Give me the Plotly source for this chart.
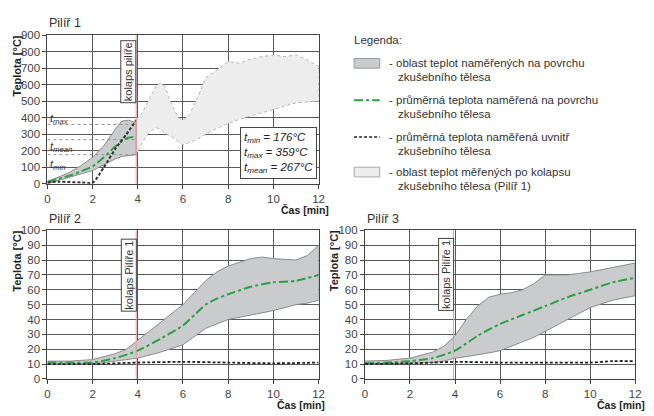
import plotly.graph_objects as go

# ---------------- data ----------------
p1_band_x = [0, 0.5, 1, 1.5, 2, 2.5, 3, 3.3, 3.6, 3.93]
p1_band_upper = [15, 40, 70, 110, 160, 230, 330, 380, 385, 368]
p1_band_lower = [0, 20, 40, 60, 80, 115, 150, 165, 172, 176]
p1_mean_x = [0, 0.5, 1, 1.5, 2, 2.5, 3, 3.5, 3.7, 3.93]
p1_mean_y = [10, 30, 50, 75, 105, 160, 225, 275, 282, 278]
p1_in_x = [0, 0.5, 1, 1.5, 2, 2.5, 3, 3.5, 3.93]
p1_in_y = [8, 12, 10, 8, 5, 100, 210, 300, 385]
p1_post_x = [3.93, 4.2, 4.5, 4.8, 5.0, 5.2, 5.5, 5.8, 6.0, 6.3, 6.7, 7.0, 7.5, 8.0,
             8.5, 9.0, 9.5, 10.0, 10.5, 11.0, 11.5, 12.0]
p1_post_upper = [390, 430, 510, 590, 610, 590, 480, 400, 385, 420, 540, 640, 690, 740,
                 730, 755, 770, 780, 770, 780, 750, 710]
p1_post_lower = [176, 250, 310, 340, 330, 305, 285, 255, 235, 250, 275, 300, 335, 365,
                 390, 410, 430, 450, 470, 490, 495, 500]
t_names = ["min", "max", "mean"]
t_values = [176, 359, 267]

p2_band_x = [0, 1, 2, 3, 3.5, 4, 5, 6, 7, 7.5, 8, 9, 9.5, 10, 11, 11.5, 12]
p2_band_upper = [12, 12, 13, 17, 20, 26, 38, 50, 66, 72, 76, 81, 82, 81, 80, 83, 90]
p2_band_lower = [10, 10, 10, 12, 13, 14, 18, 23, 34, 37, 40, 43, 44.5, 46, 50, 51, 53]
p2_mean_x = [0, 1, 2, 3, 4, 5, 6, 6.5, 7, 7.5, 8, 9, 10, 11, 12]
p2_mean_y = [11, 11, 11, 14, 19, 27, 36, 43, 50, 54, 57, 62, 65, 66, 70]
p2_in_x = [0, 2, 4, 6, 8, 10, 12]
p2_in_y = [10, 10, 11, 11.5, 11, 10.5, 11]

p3_band_x = [0, 1, 2, 3, 3.5, 4, 4.5, 5, 5.5, 6, 6.5, 7, 7.5, 8, 9, 10, 11, 12]
p3_band_upper = [12, 12.5, 14, 18, 22, 29, 40, 49, 55, 57, 58, 60, 64, 70, 70, 72, 75, 78]
p3_band_lower = [10, 10, 10.5, 11, 12, 14, 15, 16, 17.5, 19, 22, 25, 28, 32, 40, 48, 53, 56]
p3_mean_x = [0, 1, 2, 3, 4, 5, 6, 7, 8, 9, 10, 11, 12]
p3_mean_y = [10.5, 11, 12, 14, 19, 29, 37, 43, 49, 55, 60, 65, 68]
p3_in_x = [0, 2, 3, 4, 6, 8, 10, 11, 12]
p3_in_y = [10, 10.5, 11, 11.5, 11, 11, 11, 12, 12]

collapse_x = 3.93
x_ticks = [0, 2, 4, 6, 8, 10, 12]

legend_title = "Legenda:"
legend_texts = [
    ("- oblast teplot naměřených na povrchu", "zkušebního tělesa"),
    ("- průměrná teplota naměřená na povrchu", "zkušebního tělesa"),
    ("- průměrná teplota naměřená uvnitř", "zkušebního tělesa"),
    ("- oblast teplot měřených po kolapsu", "zkušebního tělesa (Pilíř 1)"),
]

# ---------------- style ----------------
FONT = "Liberation Sans, Arial, sans-serif"
DARK_FILL = "#c9cbcc"
DARK_LINE = "#8c8c8c"
LIGHT_FILL = "#ededed"
LIGHT_LINE = "#b5b5b5"
GREEN = "#2e9e48"
GRID = "#5a5a5a"
RED = "#e89a9a"
INSIDE_DASH = "3px,2px"
W, H = 654, 416


def px_x(p):
    return p / W


def px_y(p):
    return 1 - p / H


fig = go.Figure()


def band(xs, up, lo, xa, ya, fill, line, dash):
    fig.add_trace(go.Scatter(
        x=list(xs) + list(xs)[::-1], y=list(up) + list(lo)[::-1],
        fill="toself", fillcolor=fill, mode="lines",
        line=dict(color=line, width=1, dash=dash),
        xaxis=xa, yaxis=ya, showlegend=False, hoverinfo="skip"))


def line(xs, ys, xa, ya, color, dash, width):
    fig.add_trace(go.Scatter(
        x=xs, y=ys, mode="lines", line=dict(color=color, width=width, dash=dash, shape="spline", smoothing=0.6),
        xaxis=xa, yaxis=ya, showlegend=False))


# panel 1
band(p1_post_x, p1_post_upper, p1_post_lower, "x", "y", LIGHT_FILL, LIGHT_LINE, "dot")
band(p1_band_x, p1_band_upper, p1_band_lower, "x", "y", DARK_FILL, DARK_LINE, "solid")
for v in t_values:
    fig.add_trace(go.Scatter(x=[0, collapse_x], y=[v, v], mode="lines",
                             line=dict(color="#909090", width=1, dash="dot"),
                             xaxis="x", yaxis="y", showlegend=False))
line(p1_mean_x, p1_mean_y, "x", "y", GREEN, "dashdot", 2)
line(p1_in_x, p1_in_y, "x", "y", "#333333", INSIDE_DASH, 2)

# panel 2
band(p2_band_x, p2_band_upper, p2_band_lower, "x2", "y2", DARK_FILL, DARK_LINE, "solid")
line(p2_mean_x, p2_mean_y, "x2", "y2", GREEN, "dashdot", 2)
line(p2_in_x, p2_in_y, "x2", "y2", "#222222", INSIDE_DASH, 1.8)

# panel 3
band(p3_band_x, p3_band_upper, p3_band_lower, "x3", "y3", DARK_FILL, DARK_LINE, "solid")
line(p3_mean_x, p3_mean_y, "x3", "y3", GREEN, "dashdot", 2)
line(p3_in_x, p3_in_y, "x3", "y3", "#222222", INSIDE_DASH, 1.8)

# axes
dom = {
    "1": ([px_x(45), px_x(320)], [px_y(183), px_y(30)]),
    "2": ([px_x(45), px_x(320)], [px_y(384), px_y(231)]),
    "3": ([px_x(367), px_x(641)], [px_y(384), px_y(231)]),
}
tickfont = dict(family=FONT, size=11.5, color="#444")
layout_axes = {}
for k, (xd, yd) in dom.items():
    sfx = "" if k == "1" else k
    ymax = 900 if k == "1" else 100
    dtick = 100 if k == "1" else 10
    layout_axes["xaxis" + sfx] = dict(
        domain=xd, range=[0, 12], tickvals=x_ticks, anchor="y" + sfx,
        showgrid=True, gridcolor=GRID, gridwidth=1, zeroline=False,
        showline=True, linecolor="#444", linewidth=1, mirror=True,
        ticks="outside", ticklen=4, tickcolor="#444", tickfont=tickfont, fixedrange=True)
    layout_axes["yaxis" + sfx] = dict(
        domain=yd, range=[0, ymax], dtick=dtick, anchor="x" + sfx,
        showgrid=True, gridcolor=GRID, gridwidth=1, zeroline=False,
        showline=True, linecolor="#444", linewidth=1, mirror=True,
        ticks="outside", ticklen=4, tickcolor="#444", tickfont=tickfont, fixedrange=True)

shapes = []
annotations = []

# collapse lines and labels
for sfx, label, ycen in [("", "kolaps pilíře", 680), ("2", "kolaps Pilíře 1", 70), ("3", "kolaps Pilíře 1", 70)]:
    shapes.append(dict(type="line", xref="x" + sfx, yref="y" + sfx + " domain",
                       x0=collapse_x, x1=collapse_x, y0=0, y1=1,
                       line=dict(color=RED, width=1)))
    annotations.append(dict(xref="x" + sfx, yref="y" + sfx, x=3.6, y=ycen, text=label,
                            textangle=-90, showarrow=False, bgcolor="white",
                            bordercolor="#444", borderwidth=1, borderpad=1,
                            font=dict(family=FONT, size=11, color="#333")))

# t labels
for name, yv in [("max", 395), ("mean", 222), ("min", 112)]:
    annotations.append(dict(xref="x", yref="y", x=0.02, y=yv, xanchor="left",
                            text="<i>t</i><sub><i>%s</i></sub>" % name, showarrow=False,
                            font=dict(family=FONT, size=11, color="#333")))

annotations.append(dict(
    xref="x", yref="y", x=11.92, y=185, xanchor="right", yanchor="middle",
    text="<br>".join("<i>t</i><sub><i>%s</i></sub><i> = %d°C</i>" % (n, v) for n, v in zip(t_names, t_values)),
    align="left", showarrow=False, bgcolor="white", bordercolor="#444", borderwidth=1,
    borderpad=3, font=dict(family=FONT, size=11.5, color="#222")))

# titles
for txt, x, y in [("Pilíř 1", 45, 17), ("Pilíř 2", 45, 219), ("Pilíř 3", 367, 219)]:
    annotations.append(dict(xref="paper", yref="paper", x=px_x(x), y=px_y(y), xanchor="left",
                            yanchor="middle", text=txt, showarrow=False,
                            font=dict(family=FONT, size=12.5, color="#333")))
for x, ytop in [(14, 28), (14, 229), (336, 229)]:
    annotations.append(dict(xref="paper", yref="paper", x=px_x(x), y=px_y(ytop), xanchor="center",
                            yanchor="top", text="<b>Teplota [°C]</b>", textangle=-90, showarrow=False,
                            font=dict(family=FONT, size=11, color="#222")))
for xr, y in [(333, 210), (329, 411), (653, 411)]:
    annotations.append(dict(xref="paper", yref="paper", x=px_x(xr), y=px_y(y), xanchor="right",
                            yanchor="middle", text="<b>Čas [min]</b>", showarrow=False,
                            font=dict(family=FONT, size=10.5, color="#222")))

# legend
annotations.append(dict(xref="paper", yref="paper", x=px_x(354), y=px_y(35), xanchor="left",
                        yanchor="middle", text=legend_title, showarrow=False,
                        font=dict(family=FONT, size=11.5, color="#333")))
rows_y = [59, 97, 135, 171]
for i, (t1, t2) in enumerate(legend_texts):
    yy = rows_y[i]
    annotations.append(dict(xref="paper", yref="paper", x=px_x(389), y=px_y(yy), xanchor="left",
                            yanchor="middle", text=t1, showarrow=False,
                            font=dict(family=FONT, size=11.5, color="#333")))
    annotations.append(dict(xref="paper", yref="paper", x=px_x(398), y=px_y(yy + 14), xanchor="left",
                            yanchor="middle", text=t2, showarrow=False,
                            font=dict(family=FONT, size=11.5, color="#333")))
shapes.append(dict(type="rect", xref="paper", yref="paper", x0=px_x(356), x1=px_x(382),
                   y0=px_y(64), y1=px_y(54), fillcolor=DARK_FILL, line=dict(color="#999", width=1)))
shapes.append(dict(type="line", xref="paper", yref="paper", x0=px_x(356), x1=px_x(382),
                   y0=px_y(97), y1=px_y(97), line=dict(color=GREEN, width=2, dash="dashdot")))
shapes.append(dict(type="line", xref="paper", yref="paper", x0=px_x(356), x1=px_x(382),
                   y0=px_y(135), y1=px_y(135), line=dict(color="#222", width=1.5, dash=INSIDE_DASH)))
shapes.append(dict(type="rect", xref="paper", yref="paper", x0=px_x(356), x1=px_x(382),
                   y0=px_y(176), y1=px_y(166), fillcolor=LIGHT_FILL, line=dict(color="#aaa", width=1)))

fig.update_layout(
    width=W, height=H, margin=dict(l=0, r=0, t=0, b=0),
    paper_bgcolor="white", plot_bgcolor="white", showlegend=False,
    shapes=shapes, annotations=annotations, **layout_axes)

fig.write_html("out.html", config={"displayModeBar": False},
               post_script="document.body.style.margin='0px';document.body.style.overflow='hidden';")
